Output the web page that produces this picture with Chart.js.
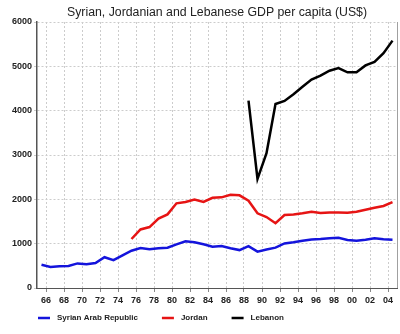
<!DOCTYPE html>
<html lang="en">
<head>
  <meta charset="UTF-8">
  <title>Syrian, Jordanian and Lebanese GDP per capita</title>
  <script src="https://cdn.jsdelivr.net/npm/chart.js"></script>
  <style>
    body { margin: 0; background: #fff; }
    canvas { display: block; }
  </style>
</head>
<body>
  <canvas id="gdpChart" width="400" height="334"></canvas>

  <script>
    const chartTitle = 'Syrian, Jordanian and Lebanese GDP per capita (US$)';

    // GDP per capita, US$, one value per year
    const syriaStart = 1965;
    const syria = [525, 475, 490, 495, 555, 535, 565, 695, 630, 735,
                   840, 900, 875, 895, 910, 985, 1055, 1030, 985, 930,
                   945, 895, 855, 945, 820, 870, 910, 1005, 1030, 1065,
                   1095, 1105, 1120, 1135, 1085, 1065, 1090, 1120, 1100, 1090];

    const jordanStart = 1975;
    const jordan = [1105, 1320, 1375, 1565, 1660, 1910, 1940, 1995, 1940, 2035,
                    2045, 2105, 2090, 1970, 1685, 1600, 1460, 1645, 1660, 1685,
                    1720, 1690, 1705, 1705, 1700, 1720, 1765, 1810, 1850, 1935];

    const lebanonStart = 1988;
    const lebanon = [4225, 2460, 3040, 4150, 4220, 4370, 4540, 4700, 4790, 4900,
                     4960, 4865, 4865, 5020, 5100, 5295, 5580];

    const tickYears = [1966, 1968, 1970, 1972, 1974, 1976, 1978, 1980, 1982, 1984,
                       1986, 1988, 1990, 1992, 1994, 1996, 1998, 2000, 2002, 2004];
    const tickLabels = ['66', '68', '70', '72', '74', '76', '78', '80', '82', '84',
                        '86', '88', '90', '92', '94', '96', '98', '00', '02', '04'];

    // values sit in the middle of their year
    const toPoints = (start, values) => values.map((v, i) => ({ x: start + i + 0.5, y: v }));

    const legendFont = 'bold 8px "Liberation Sans"';

    // title centred over the plot area, right frame line, and a legend
    // laid out the way the original one is (left-aligned under the plot)
    const decorations = {
      id: 'decorations',
      afterDraw(chart) {
        const { ctx, chartArea } = chart;
        ctx.save();
        ctx.strokeStyle = '#a0a0a0';
        ctx.lineWidth = 1;
        ctx.beginPath();
        ctx.moveTo(chartArea.right + 0.5, chartArea.top);
        ctx.lineTo(chartArea.right + 0.5, chartArea.bottom);
        ctx.stroke();

        ctx.fillStyle = '#222';
        ctx.font = '12.3px "Liberation Sans"';
        ctx.textAlign = 'center';
        ctx.textBaseline = 'middle';
        ctx.fillText(chartTitle, (chartArea.left + chartArea.right) / 2, 12.5);

        ctx.font = legendFont;
        ctx.textAlign = 'left';
        let x = chartArea.left + 1;
        const y = chart.height - 16;
        chart.data.datasets.forEach(ds => {
          ctx.strokeStyle = ds.borderColor;
          ctx.lineWidth = 2.5;
          ctx.beginPath();
          ctx.moveTo(x, y);
          ctx.lineTo(x + 12, y);
          ctx.stroke();
          ctx.fillStyle = '#222';
          ctx.fillText(ds.label, x + 19, y);
          x += 19 + ctx.measureText(ds.label).width + 24;
        });
        ctx.restore();
      }
    };

    const tickFont = { family: 'Liberation Sans', size: 9, weight: 'bold' };

    new Chart(document.getElementById('gdpChart'), {
      type: 'line',
      data: {
        datasets: [
          { label: 'Syrian Arab Republic', data: toPoints(syriaStart, syria), borderColor: '#1414dc', borderWidth: 2.5 },
          { label: 'Jordan', data: toPoints(jordanStart, jordan), borderColor: '#e61414', borderWidth: 2.5 },
          { label: 'Lebanon', data: toPoints(lebanonStart, lebanon), borderColor: '#000000', borderWidth: 2.5 }
        ]
      },
      options: {
        responsive: false,
        animation: false,
        layout: { padding: { left: 0, right: 3, top: 22, bottom: 26 } },
        elements: {
          line: { tension: 0, fill: false },
          point: { radius: 0 }
        },
        plugins: {
          title: { display: false },
          legend: { display: false },
          tooltip: { enabled: false }
        },
        scales: {
          x: {
            type: 'linear',
            min: 1965,
            max: 2005,
            afterBuildTicks: axis => { axis.ticks = tickYears.map(v => ({ value: v })); },
            afterFit: axis => { axis.height = 20; },
            ticks: {
              autoSkip: false,
              maxRotation: 0,
              padding: 3,
              color: '#222',
              font: tickFont,
              callback: (v) => tickLabels[tickYears.indexOf(v)]
            },
            grid: { color: '#cccccc', tickLength: 4, tickColor: '#888' },
            border: { color: '#555', width: 1, dash: [2, 2] }
          },
          y: {
            min: 0,
            max: 6000,
            afterFit: axis => { axis.width = 37; },
            ticks: { stepSize: 1000, padding: 2, color: '#222', font: tickFont, callback: v => String(v) },
            grid: { color: '#cccccc', tickLength: 3 },
            border: { color: '#555', width: 1.5, dash: [2, 2] }
          }
        }
      },
      plugins: [decorations]
    });
  </script>
</body>
</html>
